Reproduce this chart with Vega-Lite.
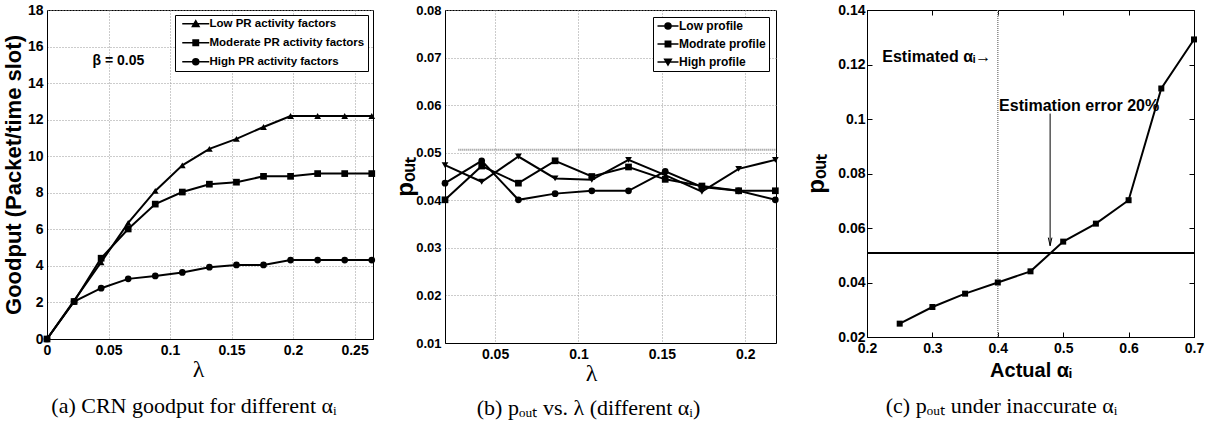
{
  "$schema": "https://vega.github.io/schema/vega-lite/v6.json",
  "padding": {"left": 1, "top": 2, "right": 0, "bottom": 0},
  "background": "white",
  "spacing": 16,
  "datasets": {
    "a": [
      {"x": 0, "y": 0, "s": "Low PR activity factors"},
      {"x": 0.022, "y": 2.1, "s": "Low PR activity factors"},
      {"x": 0.044, "y": 4.2, "s": "Low PR activity factors"},
      {"x": 0.066, "y": 6.35, "s": "Low PR activity factors"},
      {"x": 0.088, "y": 8.1, "s": "Low PR activity factors"},
      {"x": 0.11, "y": 9.5, "s": "Low PR activity factors"},
      {"x": 0.132, "y": 10.4, "s": "Low PR activity factors"},
      {"x": 0.154, "y": 10.95, "s": "Low PR activity factors"},
      {"x": 0.176, "y": 11.6, "s": "Low PR activity factors"},
      {"x": 0.198, "y": 12.2, "s": "Low PR activity factors"},
      {"x": 0.22, "y": 12.2, "s": "Low PR activity factors"},
      {"x": 0.242, "y": 12.2, "s": "Low PR activity factors"},
      {"x": 0.264, "y": 12.2, "s": "Low PR activity factors"},
      {"x": 0, "y": 0, "s": "Moderate PR activity factors"},
      {"x": 0.022, "y": 2.05, "s": "Moderate PR activity factors"},
      {"x": 0.044, "y": 4.42, "s": "Moderate PR activity factors"},
      {"x": 0.066, "y": 6.02, "s": "Moderate PR activity factors"},
      {"x": 0.088, "y": 7.38, "s": "Moderate PR activity factors"},
      {"x": 0.11, "y": 8.04, "s": "Moderate PR activity factors"},
      {"x": 0.132, "y": 8.47, "s": "Moderate PR activity factors"},
      {"x": 0.154, "y": 8.58, "s": "Moderate PR activity factors"},
      {"x": 0.176, "y": 8.9, "s": "Moderate PR activity factors"},
      {"x": 0.198, "y": 8.9, "s": "Moderate PR activity factors"},
      {"x": 0.22, "y": 9.05, "s": "Moderate PR activity factors"},
      {"x": 0.242, "y": 9.05, "s": "Moderate PR activity factors"},
      {"x": 0.264, "y": 9.05, "s": "Moderate PR activity factors"},
      {"x": 0, "y": 0, "s": "High PR activity factors"},
      {"x": 0.022, "y": 2.05, "s": "High PR activity factors"},
      {"x": 0.044, "y": 2.78, "s": "High PR activity factors"},
      {"x": 0.066, "y": 3.29, "s": "High PR activity factors"},
      {"x": 0.088, "y": 3.45, "s": "High PR activity factors"},
      {"x": 0.11, "y": 3.64, "s": "High PR activity factors"},
      {"x": 0.132, "y": 3.93, "s": "High PR activity factors"},
      {"x": 0.154, "y": 4.05, "s": "High PR activity factors"},
      {"x": 0.176, "y": 4.05, "s": "High PR activity factors"},
      {"x": 0.198, "y": 4.32, "s": "High PR activity factors"},
      {"x": 0.22, "y": 4.32, "s": "High PR activity factors"},
      {"x": 0.242, "y": 4.32, "s": "High PR activity factors"},
      {"x": 0.264, "y": 4.32, "s": "High PR activity factors"}
    ],
    "b": [
      {"x": 0.02, "y": 0.0436, "s": "Low profile"},
      {"x": 0.042, "y": 0.0483, "s": "Low profile"},
      {"x": 0.064, "y": 0.0401, "s": "Low profile"},
      {"x": 0.086, "y": 0.0414, "s": "Low profile"},
      {"x": 0.108, "y": 0.042, "s": "Low profile"},
      {"x": 0.13, "y": 0.042, "s": "Low profile"},
      {"x": 0.152, "y": 0.0461, "s": "Low profile"},
      {"x": 0.174, "y": 0.0428, "s": "Low profile"},
      {"x": 0.196, "y": 0.042, "s": "Low profile"},
      {"x": 0.218, "y": 0.0401, "s": "Low profile"},
      {"x": 0.02, "y": 0.0401, "s": "Modrate profile"},
      {"x": 0.042, "y": 0.0472, "s": "Modrate profile"},
      {"x": 0.064, "y": 0.0436, "s": "Modrate profile"},
      {"x": 0.086, "y": 0.0483, "s": "Modrate profile"},
      {"x": 0.108, "y": 0.045, "s": "Modrate profile"},
      {"x": 0.13, "y": 0.047, "s": "Modrate profile"},
      {"x": 0.152, "y": 0.0444, "s": "Modrate profile"},
      {"x": 0.174, "y": 0.043, "s": "Modrate profile"},
      {"x": 0.196, "y": 0.042, "s": "Modrate profile"},
      {"x": 0.218, "y": 0.042, "s": "Modrate profile"},
      {"x": 0.02, "y": 0.0474, "s": "High profile"},
      {"x": 0.042, "y": 0.0439, "s": "High profile"},
      {"x": 0.064, "y": 0.0492, "s": "High profile"},
      {"x": 0.086, "y": 0.0446, "s": "High profile"},
      {"x": 0.108, "y": 0.0443, "s": "High profile"},
      {"x": 0.13, "y": 0.0485, "s": "High profile"},
      {"x": 0.152, "y": 0.0453, "s": "High profile"},
      {"x": 0.174, "y": 0.0418, "s": "High profile"},
      {"x": 0.196, "y": 0.0466, "s": "High profile"},
      {"x": 0.218, "y": 0.0485, "s": "High profile"}
    ],
    "c": [
      {"x": 0.25, "y": 0.0249},
      {"x": 0.3, "y": 0.031},
      {"x": 0.35, "y": 0.0359},
      {"x": 0.4, "y": 0.04},
      {"x": 0.45, "y": 0.0441},
      {"x": 0.5, "y": 0.055},
      {"x": 0.55, "y": 0.0616},
      {"x": 0.6, "y": 0.0702},
      {"x": 0.65, "y": 0.1112},
      {"x": 0.7, "y": 0.1292}
    ]
  },
  "hconcat": [
    {
      "width": 326,
      "height": 329,
      "title": {"text": "(a) CRN goodput for different αᵢ", "orient": "bottom", "offset": 15, "dx": -16},
      "data": {"name": "a"},
      "layer": [
        {
          "mark": {"type": "line", "color": "black", "strokeWidth": 2},
          "encoding": {
            "x": {"field": "x", "type": "quantitative", "scale": {"domain": [0, 0.265], "nice": false, "zero": false},
              "axis": {"values": [0, 0.05, 0.1, 0.15, 0.2, 0.25], "tickCount": 20, "format": ".2~f", "title": "λ", "titleX": 151, "titleFont": "Liberation Serif", "titleFontWeight": "normal", "titleFontSize": 24, "titlePadding": 0, "grid": true}},
            "y": {"field": "y", "type": "quantitative", "scale": {"domain": [0, 18], "nice": false},
              "axis": {"values": [0, 2, 4, 6, 8, 10, 12, 14, 16, 18], "tickCount": 20, "title": "Goodput (Packet/time slot)", "titleFontSize": 22, "titlePadding": 2, "grid": true}},
            "detail": {"field": "s"}
          }
        },
        {
          "mark": {"type": "point", "filled": true, "color": "black", "size": 45, "opacity": 1},
          "encoding": {
            "x": {"field": "x", "type": "quantitative"},
            "y": {"field": "y", "type": "quantitative"},
            "shape": {"field": "s", "type": "nominal",
              "scale": {"domain": ["Low PR activity factors", "Moderate PR activity factors", "High PR activity factors"], "range": ["triangle-up", "square", "circle"]},
              "legend": null}
          }
        },
        {
          "transform": [{"filter": "datum.x == 0.11"}],
          "mark": {"type": "point", "filled": true, "color": "black", "stroke": "black", "strokeWidth": 2, "opacity": 0},
          "encoding": {
            "x": {"field": "x", "type": "quantitative"},
            "y": {"field": "y", "type": "quantitative"},
            "shape": {"field": "s", "type": "nominal",
              "scale": {"domain": ["Low PR activity factors", "Moderate PR activity factors", "High PR activity factors"],
                "range": ["M-4.5,0H4.5M-1.1,0.9L0,-1L1.1,0.9Z", "M-4.5,0H4.5M-0.9,-0.9H0.9V0.9H-0.9Z", "M-4.5,0H4.5M-1,0A1,1,0,1,0,1,0A1,1,0,1,0,-1,0Z"]},
              "legend": {"title": null, "orient": "top-right", "offset": 5, "strokeColor": "black", "fillColor": "white", "padding": 3,
                "labelFontSize": 11.5, "labelFontWeight": "bold", "labelColor": "black", "labelLimit": 400, "symbolSize": 36, "symbolOffset": 12, "labelOffset": 8, "rowPadding": 6, "symbolOpacity": 1,
                "encode": {"symbols": {"update": {"opacity": {"value": 1}, "fill": {"value": "black"}, "stroke": {"value": "black"}, "strokeWidth": {"value": 2}}}}}}
          }
        },
        {
          "data": {"values": [{"x": 0.037, "y": 15.2, "t": "β = 0.05"}]},
          "mark": {"type": "text", "align": "left", "baseline": "middle", "fontSize": 14, "fontWeight": "bold", "color": "black"},
          "encoding": {
            "x": {"field": "x", "type": "quantitative"},
            "y": {"field": "y", "type": "quantitative"},
            "text": {"field": "t"}
          }
        }
      ],
      "resolve": {"scale": {"shape": "independent"}}
    },
    {
      "width": 331,
      "height": 333,
      "title": {"text": "(b) pₒᵤₜ vs. λ (different αᵢ)", "orient": "bottom", "offset": 13, "dx": -22},
      "data": {"name": "b"},
      "layer": [
        {
          "data": {"values": [{"x1": 0.028, "x2": 0.218, "y": 0.0506}]},
          "mark": {"type": "rule", "color": "#888888", "strokeWidth": 2, "strokeDash": [1, 1]},
          "encoding": {
            "x": {"field": "x1", "type": "quantitative"},
            "x2": {"field": "x2"},
            "y": {"field": "y", "type": "quantitative",
              "axis": {"orient": "right", "labels": false, "title": null, "domain": false, "grid": false, "ticks": true, "tickSize": 11, "tickColor": "transparent", "values": [0.05], "tickCount": 20}}
          }
        },
        {
          "mark": {"type": "line", "color": "black", "strokeWidth": 2},
          "encoding": {
            "x": {"field": "x", "type": "quantitative", "scale": {"domain": [0.02, 0.2184], "nice": false, "zero": false},
              "axis": {"values": [0.05, 0.1, 0.15, 0.2], "tickCount": 20, "format": ".2~f", "title": "λ", "titleX": 146, "titleFont": "Liberation Serif", "titleFontWeight": "normal", "titleFontSize": 24, "titlePadding": 0, "grid": true}},
            "y": {"field": "y", "type": "quantitative", "scale": {"domain": [0.01, 0.08], "nice": false, "zero": false},
              "axis": {"values": [0.01, 0.02, 0.03, 0.04, 0.05, 0.06, 0.07, 0.08], "tickCount": 20, "format": ".2f", "labelFontSize": 13, "title": "pₒᵤₜ", "titleFontSize": 24, "titlePadding": -2, "grid": true}},
            "detail": {"field": "s"}
          }
        },
        {
          "mark": {"type": "point", "filled": true, "color": "black", "size": 45, "opacity": 1},
          "encoding": {
            "x": {"field": "x", "type": "quantitative"},
            "y": {"field": "y", "type": "quantitative", "axis": null},
            "shape": {"field": "s", "type": "nominal",
              "scale": {"domain": ["Low profile", "Modrate profile", "High profile"], "range": ["circle", "square", "triangle-down"]},
              "legend": null}
          }
        },
        {
          "transform": [{"filter": "datum.x == 0.108"}],
          "mark": {"type": "point", "filled": true, "color": "black", "stroke": "black", "strokeWidth": 2, "opacity": 0},
          "encoding": {
            "x": {"field": "x", "type": "quantitative"},
            "y": {"field": "y", "type": "quantitative", "axis": null},
            "shape": {"field": "s", "type": "nominal",
              "scale": {"domain": ["Low profile", "Modrate profile", "High profile"],
                "range": ["M-3.5,0H3.5M-1,0A1,1,0,1,0,1,0A1,1,0,1,0,-1,0Z", "M-3.5,0H3.5M-0.9,-0.9H0.9V0.9H-0.9Z", "M-3.5,0H3.5M-1.1,-0.9L0,1L1.1,-0.9Z"]},
              "legend": {"title": null, "orient": "top-right", "offset": 7, "strokeColor": "black", "fillColor": "white", "padding": 3,
                "labelFontSize": 12, "labelFontWeight": "bold", "labelColor": "black", "labelLimit": 400, "symbolSize": 36, "symbolOffset": 6, "labelOffset": 5, "rowPadding": 6, "symbolOpacity": 1,
                "encode": {"symbols": {"update": {"opacity": {"value": 1}, "fill": {"value": "black"}, "stroke": {"value": "black"}, "strokeWidth": {"value": 2}}}}}}
          }
        }
      ],
      "resolve": {"scale": {"shape": "independent"}, "axis": {"y": "independent"}}
    },
    {
      "width": 327,
      "height": 327,
      "title": {"text": "(c) pₒᵤₜ under inaccurate αᵢ", "orient": "bottom", "offset": 16, "dx": -29},
      "data": {"name": "c"},
      "layer": [
        {
          "data": {"values": [{"x": 0.4}]},
          "mark": {"type": "rule", "color": "#888888", "strokeWidth": 1.5, "strokeDash": [1, 1]},
          "encoding": {
            "x": {"field": "x", "type": "quantitative", "scale": {"domain": [0.2, 0.7], "nice": false, "zero": false},
              "axis": {"values": [0.2, 0.3, 0.4, 0.5, 0.6, 0.7], "tickCount": 20, "format": ".1f", "title": "Actual αᵢ", "titleFontSize": 20, "titlePadding": 5, "grid": false, "ticks": true, "tickSize": -5, "labelPadding": 9}}
          }
        },
        {
          "data": {"values": [{"y": 0.0508}]},
          "mark": {"type": "rule", "color": "black", "strokeWidth": 2},
          "encoding": {
            "y": {"field": "y", "type": "quantitative", "scale": {"domain": [0.02, 0.14], "nice": false, "zero": false},
              "axis": {"values": [0.02, 0.04, 0.06, 0.08, 0.1, 0.12, 0.14], "tickCount": 20, "format": ".2~f", "title": "pₒᵤₜ", "titleFontSize": 24, "titlePadding": 9, "grid": false, "ticks": true, "tickSize": -5, "labelPadding": 7}}
          }
        },
        {
          "mark": {"type": "line", "color": "black", "strokeWidth": 2},
          "encoding": {
            "x": {"field": "x", "type": "quantitative",
              "axis": {"orient": "top", "values": [0.2, 0.3, 0.4, 0.5, 0.6, 0.7], "tickCount": 20, "labels": false, "title": null, "domain": false, "grid": false, "ticks": true, "tickSize": -5}},
            "y": {"field": "y", "type": "quantitative",
              "axis": {"orient": "right", "values": [0.02, 0.04, 0.06, 0.08, 0.1, 0.12, 0.14], "tickCount": 20, "labels": false, "title": null, "domain": false, "grid": false, "ticks": true, "tickSize": -5}}
          }
        },
        {
          "mark": {"type": "point", "shape": "square", "filled": true, "color": "black", "size": 36, "opacity": 1},
          "encoding": {
            "x": {"field": "x", "type": "quantitative", "axis": null},
            "y": {"field": "y", "type": "quantitative", "axis": null}
          }
        },
        {
          "data": {"values": [{"x": 0.48, "y": 0.102, "y2": 0.0535}]},
          "mark": {"type": "rule", "color": "black", "strokeWidth": 1},
          "encoding": {
            "x": {"field": "x", "type": "quantitative", "axis": null},
            "y": {"field": "y", "type": "quantitative", "axis": null},
            "y2": {"field": "y2"}
          }
        },
        {
          "data": {"values": [{"x": 0.48, "y": 0.0535}]},
          "mark": {"type": "point", "shape": "M-0.6,-2.7L0,0L0.6,-2.7", "filled": false, "color": "black", "strokeWidth": 1, "size": 36, "opacity": 1},
          "encoding": {
            "x": {"field": "x", "type": "quantitative", "axis": null},
            "y": {"field": "y", "type": "quantitative", "axis": null}
          }
        },
        {
          "data": {"values": [{"x": 0.2234, "y": 0.1226, "t": "Estimated αᵢ→"}, {"x": 0.402, "y": 0.1047, "t": "Estimation error 20%"}]},
          "mark": {"type": "text", "align": "left", "baseline": "middle", "fontSize": 16, "fontWeight": "bold", "color": "black"},
          "encoding": {
            "x": {"field": "x", "type": "quantitative", "axis": null},
            "y": {"field": "y", "type": "quantitative", "axis": null},
            "text": {"field": "t"}
          }
        }
      ],
      "resolve": {"axis": {"x": "independent", "y": "independent"}}
    }
  ],
  "config": {
    "font": "Liberation Sans",
    "view": {"stroke": "black", "strokeWidth": 1},
    "axis": {
      "labelFont": "Liberation Sans", "labelFontWeight": "bold", "labelFontSize": 14, "labelColor": "black",
      "labelFlush": false, "labelOverlap": false, "labelPadding": 4,
      "titleFont": "Liberation Sans", "titleFontWeight": "bold", "titleColor": "black",
      "domainColor": "black", "tickColor": "black", "ticks": false,
      "gridColor": "#999999", "gridDash": [1, 2], "gridWidth": 1
    },
    "legend": {"labelFont": "Liberation Sans"},
    "title": {"font": "Liberation Serif", "fontSize": 22, "fontWeight": "normal", "color": "black", "anchor": "middle"}
  }
}
